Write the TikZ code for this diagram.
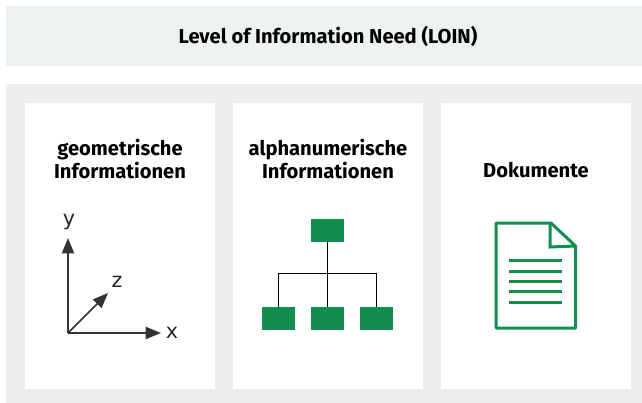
\documentclass[tikz,border=0pt]{standalone}
\usepackage{fontspec}
\setmainfont{Fira Sans}
\newfontfamily\axisfont{DejaVu Sans}
\usetikzlibrary{arrows.meta}
\definecolor{loingreen}{HTML}{138D50}
\definecolor{loinband}{HTML}{EDF3EF}
\definecolor{loingray}{HTML}{EEEEEE}
\tikzset{
    heading/.style={font=\fontsize{15.1}{17.25}\selectfont\bfseries, align=center, text=black},
    axislabel/.style={font=\axisfont\fontsize{15.5}{15.5}\selectfont, text=black!85},
    axis/.style={draw=black!80, line width=1.5pt, -{Triangle[length=11.5pt,width=9pt]}},
    treebox/.style={fill=loingreen, minimum width=24.75pt, minimum height=17.25pt, inner sep=0pt},
    treeline/.style={draw=black, line width=1pt},
    docline/.style={draw=loingreen, line width=2.25pt}
}
\begin{document}
\begin{tikzpicture}[x=0.75pt,y=-0.75pt]
    \useasboundingbox (0,0) rectangle (642,403);
    % Backgrounds
    \fill[loinband] (6,6) rectangle (642,66);
    \fill[loingray] (6,84) rectangle (642,403);
    \fill[white] (25,103) rectangle (215,389);
    \fill[white] (233,103) rectangle (423,389);
    \fill[white] (441,103) rectangle (631,389);
    % Headings
    \node[heading] (title) at (328,36) {Level of Information Need (LOIN)};
    \node[heading] (geo) at (120,159) {geometrische\\Informationen};
    \node[heading] (alpha) at (328,159) {alphanumerische\\Informationen};
    \node[heading] (doku) at (536,170.5) {Dokumente};
    % Axes
    \coordinate (o) at (68,333);
    \coordinate (ytip) at (68,238);
    \coordinate (xtip) at (161,333);
    \coordinate (ztip) at (108,293);
    \draw[axis] (o)--(ytip);
    \draw[axis] (o)--(xtip);
    \draw[axis, line width=1.1pt] (o)--(ztip);
    \node[axislabel] (ylabel) at (69,222) {y};
    \node[axislabel] (zlabel) at (117,282) {z};
    \node[axislabel] (xlabel) at (172,332.5) {x};
    % Tree
    \node[treebox] (root) at (327.5,230.5) {};
    \node[treebox] (left) at (278.5,318.5) {};
    \node[treebox] (mid) at (327.5,318.5) {};
    \node[treebox] (right) at (376.5,318.5) {};
    \coordinate (bar) at (327.5,273.5);
    \draw[treeline] (root)--(mid);
    \draw[treeline] (left.north) |- (bar) -| (right.north);
    % Document
    \coordinate (dtl) at (496,223);
    \coordinate (dbr) at (575.5,328);
    \coordinate (fold) at (551,223);
    \coordinate (foldr) at (575.5,246);
    \draw[loingreen, line width=2.25pt, line join=bevel] (dtl)--(fold)--(foldr)--(dbr)--(dtl |- dbr)--cycle;
    \draw[loingreen, line width=2.25pt] (550,223)--(550,247)--(foldr);
    \foreach \y in {260,271,281,291,302}
        \draw[docline] (509,\y)--(562,\y);
\end{tikzpicture}
\end{document}
